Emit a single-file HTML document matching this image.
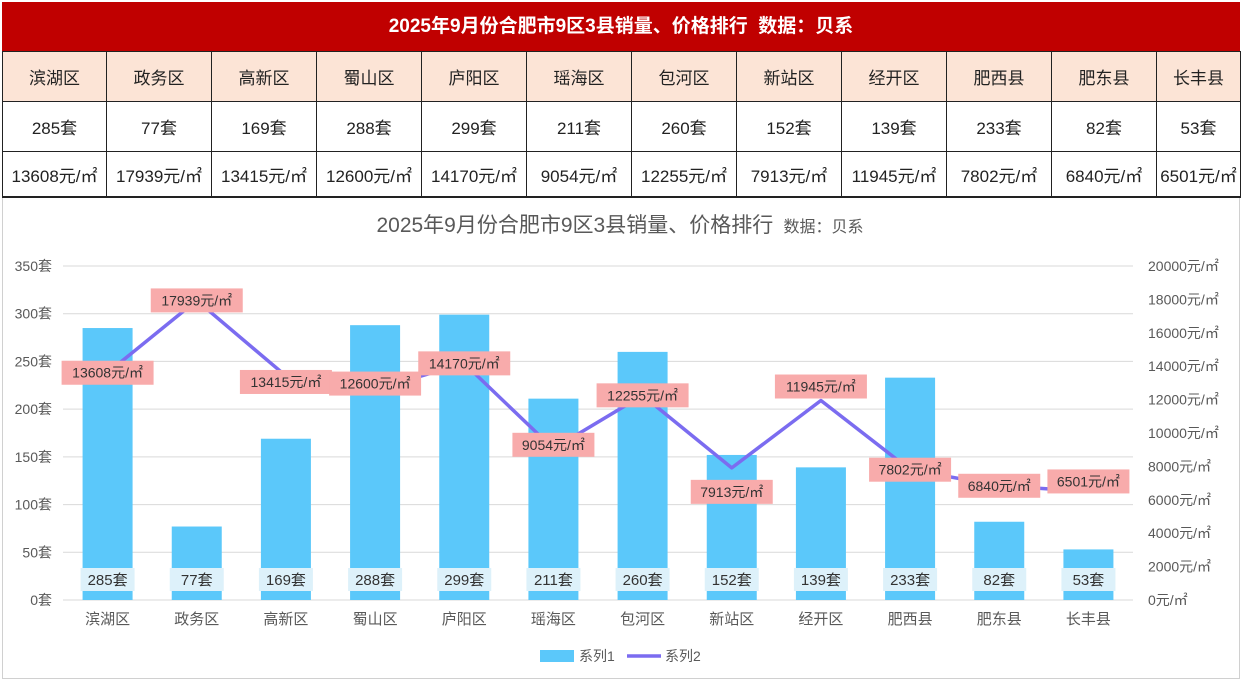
<!DOCTYPE html>
<html><head><meta charset="utf-8">
<style>
body{margin:0;width:1242px;height:681px;background:#fff;font-family:"Liberation Sans","Noto Sans CJK SC",sans-serif;overflow:hidden;position:relative}
#title{position:absolute;left:2px;top:2px;width:1238px;height:49px;background:#c00000;color:#fff;font-weight:bold;font-size:19px;text-align:center;line-height:49px}
table{position:absolute;left:2px;top:51px;width:1238px;border-collapse:collapse;table-layout:fixed}
td{border:1px solid #222;text-align:center;font-size:17px;color:#222;padding:0;white-space:nowrap;overflow:hidden}
tr.h td{background:#fce4d6;height:49px}
tr.r td{height:49px}
tr.p td{height:44px;border-bottom:2px solid #222}
#chart{position:absolute;left:2px;top:198px;width:1236px;height:480px;border:1px solid #d0d0d0;border-top:none}
</style></head><body>
<div id="title">2025年9月份合肥市9区3县销量、价格排行&nbsp;&nbsp;数据：贝系</div>
<table><colgroup id="cg"></colgroup><tbody id="tb"></tbody></table>
<div id="chart"></div>
<svg id="svg" width="1242" height="681" style="position:absolute;left:0;top:0"></svg>
<script>
const categories=["滨湖区","政务区","高新区","蜀山区","庐阳区","瑶海区","包河区","新站区","经开区","肥西县","肥东县","长丰县"];
const sales=[285,77,169,288,299,211,260,152,139,233,82,53];
const prices=[13608,17939,13415,12600,14170,9054,12255,7913,11945,7802,6840,6501];
const leftTicks=[0,50,100,150,200,250,300,350];
const rightTicks=[0,2000,4000,6000,8000,10000,12000,14000,16000,18000,20000];
const labelDy=[0,0,6,-6,0,-4,0,24,-14,0,0,-10];

const cg=document.getElementById('cg');
categories.forEach((c,i)=>{const col=document.createElement('col');col.style.width=(i==0?104:i==11?84:105)+'px';cg.appendChild(col);});
const tb=document.getElementById('tb');
function row(cls,arr,fmt,name){const tr=document.createElement('tr');tr.className=cls;


arr.forEach(v=>{const td=document.createElement('td');td.textContent=fmt(v);


tr.appendChild(td);});tb.appendChild(tr);}
row('h',categories,v=>v,'district-header-row');
row('r',sales,v=>v+'套','sales-row');
row('p',prices,v=>v+'元/㎡','price-row');

const NS='http://www.w3.org/2000/svg',svg=document.getElementById('svg');
function el(t,a,txt){const e=document.createElementNS(NS,t);for(const k in a)e.setAttribute(k,a[k]);if(txt!=null)e.textContent=txt;svg.appendChild(e);return e;}
const x0=63,x1=1133,yB=600,yT=266;
const step=(x1-x0)/categories.length;
const xS=i=>x0+step*(i+0.5);
const yL=v=>yB-(v/350)*(yB-yT);
const yR=v=>yB-(v/20000)*(yB-yT);
const gray='#595959';
let t=el('text',{x:620,y:232,'text-anchor':'middle','font-size':21,fill:gray});


t.innerHTML='2025年9月份合肥市9区3县销量、价格排行 <tspan font-size="16">&#160;数据：贝系</tspan>';
leftTicks.forEach(v=>{const g=el('line',{x1:x0,x2:x1,y1:yL(v),y2:yL(v),stroke:'#d9d9d9','stroke-width':1});


const l=el('text',{x:52,y:yL(v)+5,'text-anchor':'end','font-size':14,fill:gray},v+'套');

});
rightTicks.forEach(v=>{const l=el('text',{x:1148,y:yR(v)+5,'font-size':14,fill:gray},v+'元/㎡');

});
const bw=50;
sales.forEach((v,i)=>{const r=el('rect',{x:xS(i)-bw/2,y:yL(v),width:bw,height:yB-yL(v),fill:'#5bc8fa'});


const b=el('rect',{x:xS(i)-27,y:568,width:54,height:23,fill:'#ddf1fa'});


const tx=el('text',{x:xS(i),y:585,'text-anchor':'middle','font-size':15,fill:'#333'},v+'套');


const c=el('text',{x:xS(i),y:624,'text-anchor':'middle','font-size':15,fill:gray},categories[i]);

});
const pl=el('polyline',{points:prices.map((v,i)=>xS(i)+','+yR(v)).join(' '),fill:'none',stroke:'#7b6cf0','stroke-width':3.5,'stroke-linejoin':'round'});


prices.forEach((v,i)=>{const cy=yR(v)+labelDy[i];const s=v+'元/㎡';const w=s.length*10+12;
const b=el('rect',{x:xS(i)-w/2,y:cy-12,width:w,height:24,fill:'#f8abab'});


const tx=el('text',{x:xS(i),y:cy+5,'text-anchor':'middle','font-size':14,fill:'#333'},s);

});
const lg1=el('rect',{x:540,y:650,width:34,height:12,fill:'#5bc8fa'});


const lt1=el('text',{x:579,y:661,'font-size':14,fill:gray},'系列1');


const lg2=el('line',{x1:627,x2:661,y1:656,y2:656,stroke:'#7b6cf0','stroke-width':3.5});


const lt2=el('text',{x:665,y:661,'font-size':14,fill:gray},'系列2');


</script>
</body></html>
